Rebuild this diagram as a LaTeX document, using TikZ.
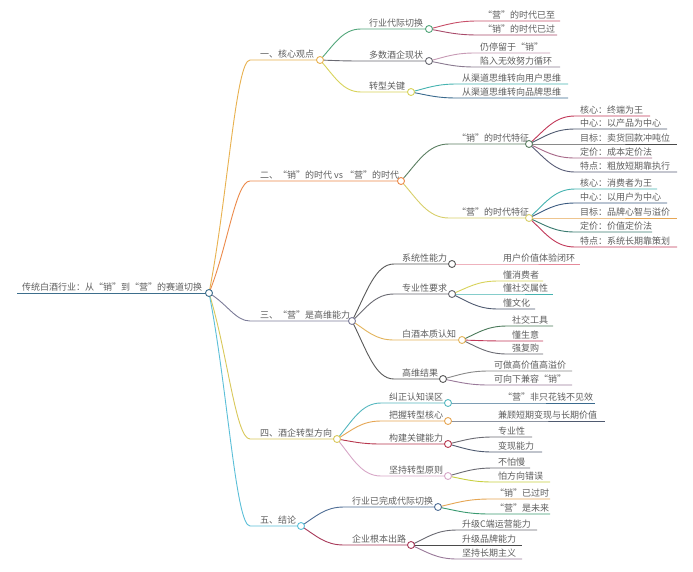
\documentclass[tikz,border=0pt]{standalone}
\usepackage{fontspec}
\newfontfamily\cjk{Noto Sans CJK SC}
\usetikzlibrary{calc}
\pgfdeclarelayer{bg}
\pgfsetlayers{bg,main}
\definecolor{txt}{HTML}{5E5E5E}
\definecolor{cRoot}{HTML}{3D6E8C}
\definecolor{cOne}{HTML}{E8B14F}
\definecolor{cTwo}{HTML}{EC8A4A}
\definecolor{cThree}{HTML}{7D7D99}
\definecolor{cFour}{HTML}{D9C85A}
\definecolor{cFive}{HTML}{5BBFD8}
\definecolor{cGreen}{HTML}{52A67A}
\definecolor{cGray}{HTML}{6A6A72}
\definecolor{cYellow}{HTML}{D8D35A}
\definecolor{cRose}{HTML}{C8506A}
\definecolor{cRoseDk}{HTML}{A84A6A}
\definecolor{cMauveLt}{HTML}{C79AB5}
\definecolor{cGrayPurple}{HTML}{8A7A90}
\definecolor{cTeal}{HTML}{45B3B0}
\definecolor{cBlueDk}{HTML}{3A6A8E}
\definecolor{cOlive}{HTML}{5B7F62}
\definecolor{cYellowTwo}{HTML}{D8CF6A}
\definecolor{cCrimson}{HTML}{C23A5A}
\definecolor{cSlate}{HTML}{4F5A70}
\definecolor{cDark}{HTML}{4A4A4A}
\definecolor{cMauve}{HTML}{A86A8A}
\definecolor{cSlateBlue}{HTML}{5A5E78}
\definecolor{cNavy}{HTML}{3A5A80}
\definecolor{cOrange}{HTML}{E6A654}
\definecolor{cTealDk}{HTML}{3A7A70}
\definecolor{cDkGray}{HTML}{5A5A5A}
\definecolor{cPink}{HTML}{E58A9A}
\definecolor{cGold}{HTML}{E3B45C}
\definecolor{cGreenDk}{HTML}{4A7A5A}
\definecolor{cGrayLt}{HTML}{8A8A8A}
\definecolor{cPurpleGray}{HTML}{9A7A9A}
\definecolor{cTealLt}{HTML}{56B8C0}
\definecolor{cCrimsonTwo}{HTML}{B8384F}
\definecolor{cPinkLt}{HTML}{D8A8C8}
\definecolor{cYellowGreen}{HTML}{C8D040}
\definecolor{cBlueTwo}{HTML}{4F6E96}
\definecolor{cMaroon}{HTML}{A83A5A}
\definecolor{cGreenTwo}{HTML}{3A9A70}
\tikzset{
  lbl/.style={anchor=base west,inner sep=0pt,text=txt,font=\cjk\fontsize{9}{10}\selectfont},
  dot/.style={circle,draw=#1,fill=white,inner sep=0pt,minimum size=7pt,line width=0.9pt},
  edge/.style={line width=0.9pt,draw=#1},
  mm/.style={to path={let \p1=(\tikztostart),\p2=(\tikztotarget) in
     .. controls ({\x1+0.35*(\x2-\x1)},{\y1+0.5*(\y2-\y1)}) and ({\x1+0.55*(\x2-\x1)},\y2) .. (\tikztotarget)}},
  mmroot/.style={to path={let \p1=(\tikztostart),\p2=(\tikztotarget) in
     .. controls ({\x1+0.45*(\x2-\x1)},{\y1+0.4*(\y2-\y1)}) and ({\x1+0.65*(\x2-\x1)},\y2) .. (\tikztotarget)}},
}
% parent, name, color, textx, y, circlex, text
\newcommand\mmtop[7]{%
  \node[lbl] (#2t) at (#4,{#5-3}) {#7};
  \node[dot=#3] (#2) at (#6,#5) {};
  \coordinate (#2s) at ({#4-10},#5);
  \begin{pgfonlayer}{bg}\draw[edge=#3] (#1.center) to[mmroot] (#2s) -- (#2.center);\end{pgfonlayer}}
\newcommand\mmbranch[7]{%
  \node[lbl] (#2t) at (#4,{#5-3}) {#7};
  \node[dot=#3] (#2) at (#6,#5) {};
  \coordinate (#2s) at ({#4-8},#5);
  \begin{pgfonlayer}{bg}\draw[edge=#3] (#1.center) to[mm] (#2s) -- (#2.center);\end{pgfonlayer}}
% parent, name, color, textx, y, endx, text
\newcommand\mmleaf[7]{%
  \node[lbl] (#2) at (#4,{#5-3}) {#7};
  \coordinate (#2s) at ({#4-5},#5);
  \coordinate (#2e) at (#6,#5);
  \begin{pgfonlayer}{bg}\draw[edge=#3] (#1.center) to[mm] (#2s) -- (#2e);\end{pgfonlayer}}
\begin{document}
\begin{tikzpicture}[x=1pt,y=-1pt]
\begin{pgfonlayer}{bg}
\fill[white] (0,0) rectangle (693,571);
\end{pgfonlayer}
\useasboundingbox (0,0) rectangle (693,571);
% root
\node[lbl] (roott) at (22,290) {传统白酒行业：从“销”到“营”的赛道切换};
\node[dot=cRoot] (root) at (209,293) {};
\coordinate (roots) at (17,293);
\begin{pgfonlayer}{bg}\draw[edge=cRoot] (roots) -- (root.center);\end{pgfonlayer}
% level 1
\mmtop{root}{n1}{cOne}{260}{60}{320}{一、核心观点}
\mmtop{root}{n2}{cTwo}{260}{181}{401}{二、“销”的时代 vs “营”的时代}
\mmtop{root}{n3}{cThree}{260}{321}{352}{三、“营”是高维能力}
\mmtop{root}{n4}{cFour}{260}{439}{337}{四、酒企转型方向}
\mmtop{root}{n5}{cFive}{260}{526}{301}{五、结论}
% 一
\mmbranch{n1}{a1}{cGreen}{369}{29}{429}{行业代际切换}
\mmleaf{a1}{a1a}{cRose}{483}{21}{560}{“营”的时代已至}
\mmleaf{a1}{a1b}{cRoseDk}{483}{35}{557}{“销”的时代已过}
\mmbranch{n1}{a2}{cGray}{369}{61}{429}{多数酒企现状}
\mmleaf{a2}{a2a}{cMauveLt}{480}{53}{550}{仍停留于“销”}
\mmleaf{a2}{a2b}{cGrayPurple}{480}{67}{560}{陷入无效努力循环}
\mmbranch{n1}{a3}{cYellow}{369}{92}{411}{转型关键}
\mmleaf{a3}{a3a}{cTeal}{462}{84}{568}{从渠道思维转向用户思维}
\mmleaf{a3}{a3b}{cBlueDk}{462}{98}{568}{从渠道思维转向品牌思维}
% 二
\mmbranch{n2}{b1}{cOlive}{457}{144}{529}{“销”的时代特征}
\mmleaf{b1}{b1a}{cCrimson}{580}{116}{650}{核心：终端为王}
\mmleaf{b1}{b1b}{cSlate}{580}{129}{667}{中心：以产品为中心}
\mmleaf{b1}{b1c}{cDark}{580}{144}{677}{目标：卖货回款冲吨位}
\mmleaf{b1}{b1d}{cMauve}{580}{158}{652}{定价：成本定价法}
\mmleaf{b1}{b1e}{cSlateBlue}{580}{172}{677}{特点：粗放短期靠执行}
\mmbranch{n2}{b2}{cYellowTwo}{457}{218}{529}{“营”的时代特征}
\mmleaf{b2}{b2a}{cTeal}{580}{189}{657}{核心：消费者为王}
\mmleaf{b2}{b2b}{cNavy}{580}{203}{667}{中心：以用户为中心}
\mmleaf{b2}{b2c}{cOrange}{580}{218}{677}{目标：品牌心智与溢价}
\mmleaf{b2}{b2d}{cTealDk}{580}{232}{652}{定价：价值定价法}
\mmleaf{b2}{b2e}{cCrimson}{580}{247}{677}{特点：系统长期靠策划}
% 三
\mmbranch{n3}{c1}{cDkGray}{402}{264}{452}{系统性能力}
\mmleaf{c1}{c1a}{cPink}{503}{264}{580}{用户价值体验闭环}
\mmbranch{n3}{c2}{cGray}{402}{294}{452}{专业性要求}
\mmleaf{c2}{c2a}{cYellow}{503}{281}{543}{懂消费者}
\mmleaf{c2}{c2b}{cTeal}{503}{294}{553}{懂社交属性}
\mmleaf{c2}{c2c}{cSlate}{503}{309}{535}{懂文化}
\mmbranch{n3}{c3}{cGold}{402}{340}{462}{白酒本质认知}
\mmleaf{c3}{c3a}{cGreenDk}{512}{326}{553}{社交工具}
\mmleaf{c3}{c3b}{cCrimson}{512}{341}{543}{懂生意}
\mmleaf{c3}{c3c}{cGray}{512}{354}{543}{强复购}
\mmbranch{n3}{c4}{cDkGray}{402}{379}{443}{高维结果}
\mmleaf{c4}{c4a}{cGrayLt}{494}{371}{572}{可做高价值高溢价}
\mmleaf{c4}{c4b}{cPurpleGray}{494}{385}{572}{可向下兼容“销”}
% 四
\mmbranch{n4}{d1}{cTealLt}{389}{403}{448}{纠正认知误区}
\mmleaf{d1}{d1a}{cBlueDk}{503}{403}{595}{“营”非只花钱不见效}
\mmbranch{n4}{d2}{cOrange}{389}{421}{448}{把握转型核心}
\mmleaf{d2}{d2a}{cSlate}{498}{421}{605}{兼顾短期变现与长期价值}
\mmbranch{n4}{d3}{cCrimsonTwo}{389}{444}{448}{构建关键能力}
\mmleaf{d3}{d3a}{cGray}{498}{437}{532}{专业性}
\mmleaf{d3}{d3b}{cSlate}{498}{452}{542}{变现能力}
\mmbranch{n4}{d4}{cPinkLt}{389}{476}{448}{坚持转型原则}
\mmleaf{d4}{d4a}{cGray}{498}{468}{530}{不怕慢}
\mmleaf{d4}{d4b}{cYellowGreen}{498}{482}{550}{怕方向错误}
% 五
\mmbranch{n5}{e1}{cBlueTwo}{352}{507}{438}{行业已完成代际切换}
\mmleaf{e1}{e1a}{cOrange}{495}{499}{550}{“销”已过时}
\mmleaf{e1}{e1b}{cGreenTwo}{495}{514}{550}{“营”是未来}
\mmbranch{n5}{e2}{cMaroon}{352}{545}{411}{企业根本出路}
\mmleaf{e2}{e2a}{cGray}{462}{530}{537}{升级C端运营能力}
\mmleaf{e2}{e2b}{cDark}{462}{545}{522}{升级品牌能力}
\mmleaf{e2}{e2c}{cPurpleGray}{462}{559}{522}{坚持长期主义}
\end{tikzpicture}
\end{document}
